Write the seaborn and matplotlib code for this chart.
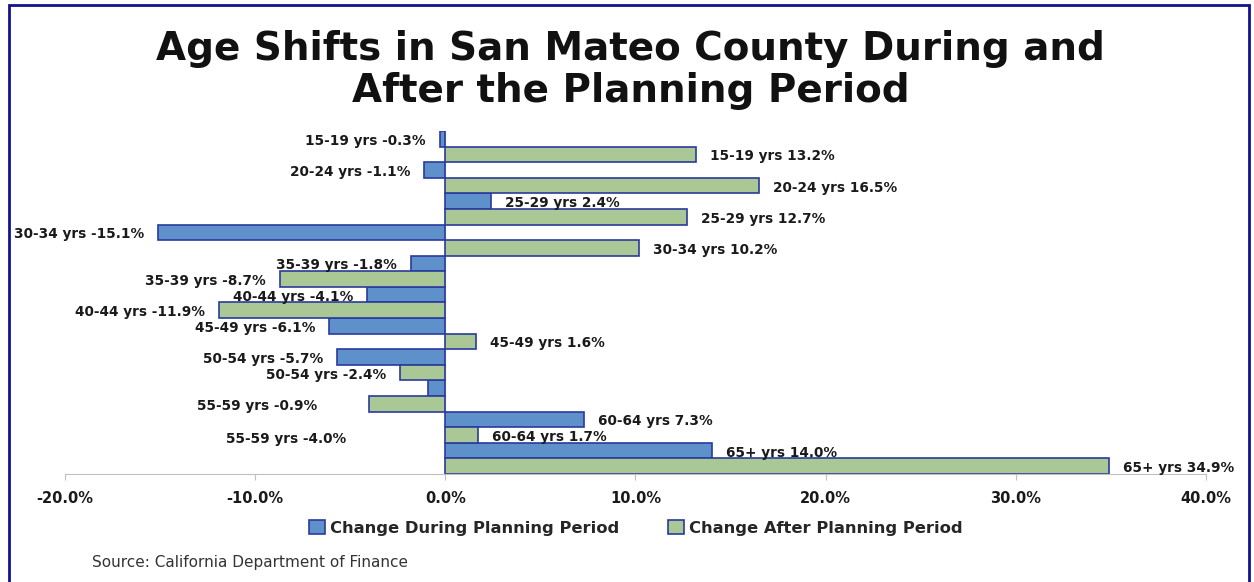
import seaborn as sns
import matplotlib.pyplot as plt
import matplotlib.patches as mpatches
import pandas as pd

# Age groups, top to bottom
ages = ["15-19", "20-24", "25-29", "30-34", "35-39", "40-44",
        "45-49", "50-54", "55-59", "60-64", "65+"]

# Percent change per age group
during = [-0.3, -1.1, 2.4, -15.1, -1.8, -4.1, -6.1, -5.7, -0.9, 7.3, 14.0]
after = [13.2, 16.5, 12.7, 10.2, -8.7, -11.9, 1.6, -2.4, -4.0, 1.7, 34.9]

series = ["Change During Planning Period", "Change After Planning Period"]
xticks = [-20, -10, 0, 10, 20, 30, 40]

df = pd.DataFrame({
    "age": ages * 2,
    "value": during + after,
    "series": [series[0]] * len(ages) + [series[1]] * len(ages),
})

sns.set_style("white")
plt.rcParams["font.family"] = ["DejaVu Sans"]

fig = plt.figure(figsize=(12.54, 5.82), dpi=100)
ax = fig.add_axes([0.0518, 0.1856, 0.9099, 0.5894])

ax.axvline(0, color="#bfbfbf", linewidth=0.8, zorder=0)

sns.barplot(
    data=df, x="value", y="age", hue="series", orient="h",
    order=ages, hue_order=series,
    palette=["#4c90dc", "#a8d08d"],
    edgecolor="#2b3a9e", linewidth=1.2,
    width=1.0, ax=ax,
)

handles, labels = ax.get_legend_handles_labels()
ax.legend_.remove()

# Data labels ("<age> yrs <value>%") at the end of each bar
nudges = {
    (series[0], "55-59"): (-97, -16),
    (series[1], "55-59"): (-9, -33),
}
for name, cont in zip(series, ax.containers):
    for age, bar in zip(ages, cont):
        w = bar.get_width()
        yc = bar.get_y() + bar.get_height() / 2
        dx, dy = nudges.get((name, age), (0, 0))
        off = 14 if w >= 0 else -14
        ax.annotate(f"{age} yrs {w:.1f}%", xy=(w, yc),
                    xytext=(off + dx, -2 + dy), textcoords="offset pixels",
                    ha="left" if w >= 0 else "right", va="center",
                    fontsize=9.8, fontweight="bold", color="#1a1a1a")

ax.set_xlim(-20, 40)
ax.set_xticks(xticks)
ax.set_xticklabels([f"{v:.1f}%" for v in xticks])
ax.set_yticks([])
ax.set_xlabel("")
ax.set_ylabel("")
for s in ["top", "right", "left"]:
    ax.spines[s].set_visible(False)
ax.spines["bottom"].set_color("#bfbfbf")
ax.tick_params(axis="x", bottom=True, length=4, color="#bfbfbf",
               pad=8, labelsize=10.5)
for t in ax.get_xticklabels():
    t.set_fontweight("bold")
    t.set_color("#1a1a1a")

fig.text(0.503, 0.88,
         "Age Shifts in San Mateo County During and\nAfter the Planning Period",
         ha="center", va="center", fontsize=28, fontweight="bold",
         linespacing=1.12, color="#111111")

fig.legend(handles, labels, loc="center", bbox_to_anchor=(0.507, 0.093),
           ncol=2, frameon=False, handlelength=0.95, handleheight=0.95,
           handletextpad=0.3, columnspacing=3.0,
           prop={"weight": "bold", "size": 11.8})

fig.text(0.0734, 0.034, "Source: California Department of Finance",
         fontsize=11, color="#333333", va="center")

# Dark blue frame around the chart
fig.patches.append(mpatches.Rectangle(
    (0.0072, -0.05), 0.9888, 1.0414, transform=fig.transFigure,
    fill=False, edgecolor="#12128f", linewidth=2))

fig.savefig("out.png", dpi=100)
